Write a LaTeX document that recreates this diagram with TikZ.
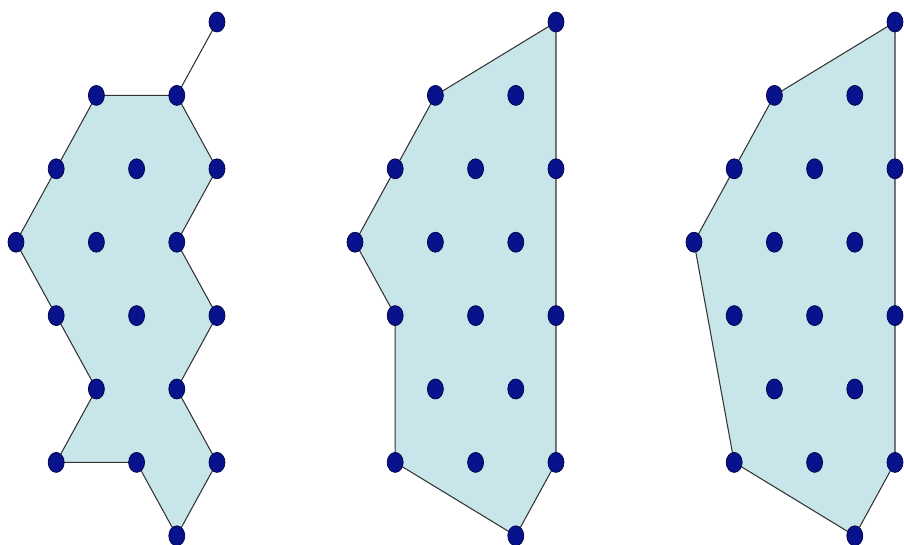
\documentclass[tikz,border=0pt]{standalone}
\usetikzlibrary{shapes.geometric}

\definecolor{hullfill}{RGB}{200,230,233}
\definecolor{dotblue}{RGB}{8,18,140}
\definecolor{dotedge}{RGB}{0,0,70}

\begin{document}
\begin{tikzpicture}[
    x=0.02cm, y=-0.02cm,
    dot/.style={ellipse, fill=dotblue, draw=dotedge, line width=0.4pt,
        inner sep=0pt, minimum width=0.32cm, minimum height=0.4cm},
    hull/.style={fill=hullfill, draw=black!80, line width=0.6pt, line join=round},
    edge/.style={draw=black!80, line width=0.6pt}
]
\useasboundingbox (0,0) rectangle (904,545);

% Lattice points (panel a, b, c)
\foreach \p/\dx in {a/0,b/339,c/678}
  \foreach \r/\c in {0/5,1/2,1/4,2/1,2/3,2/5,3/0,3/2,3/4,4/1,4/3,4/5,5/2,5/4,6/1,6/3,6/5,7/4}
    \coordinate (\p\r\c) at ({16+40.2*\c+\dx},{22+73.4*\r});

% Panel a
\draw[hull] (a12) -- (a14) -- (a25) -- (a34) -- (a45) -- (a54) -- (a65) -- (a74)
    -- (a63) -- (a61) -- (a52) -- (a41) -- (a30) -- (a21) -- cycle;
\draw[edge] (a14) -- (a05);

% Panel b
\draw[hull] (b05) -- (b65) -- (b74) -- (b61) -- (b41) -- (b30) -- (b21) -- (b12) -- cycle;

% Panel c
\draw[hull] (c05) -- (c65) -- (c74) -- (c61) -- (c30) -- (c21) -- (c12) -- cycle;

% Dots
\foreach \p in {a,b,c}
  \foreach \r/\c in {0/5,1/2,1/4,2/1,2/3,2/5,3/0,3/2,3/4,4/1,4/3,4/5,5/2,5/4,6/1,6/3,6/5,7/4}
    \node[dot] (d\p\r\c) at (\p\r\c) {};

\end{tikzpicture}
\end{document}
